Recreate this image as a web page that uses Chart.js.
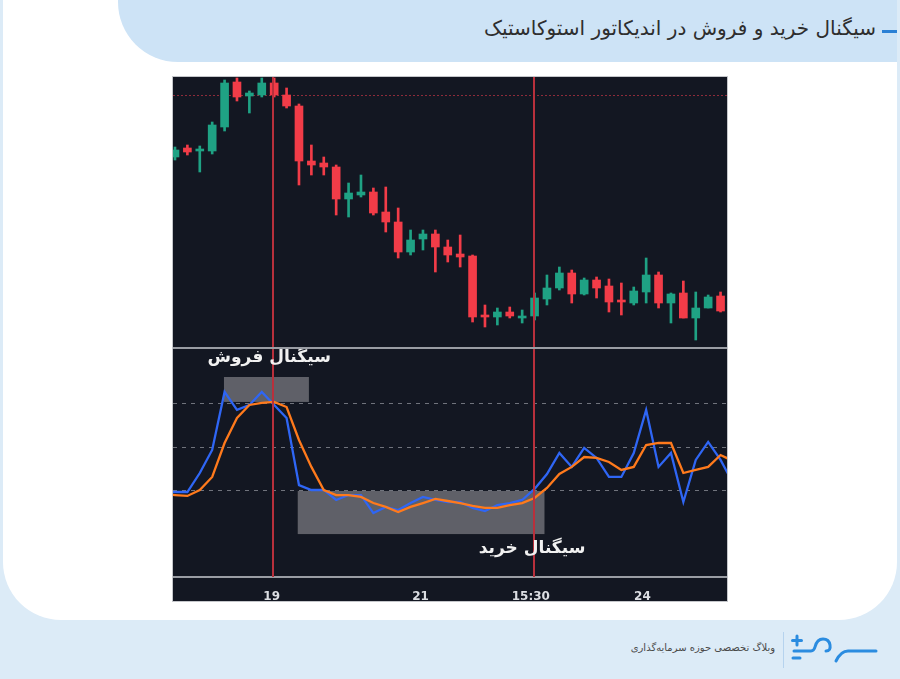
<!DOCTYPE html>
<html lang="fa">
<head>
<meta charset="utf-8">
<script src="https://cdn.jsdelivr.net/npm/chart.js@4.4.1/dist/chart.umd.min.js"></script>
<style>
  body { margin: 0; width: 900px; height: 679px; background: #dcebf7; position: relative; overflow: hidden; font-family: "DejaVu Sans", sans-serif; }
  #panel { position: absolute; left: 3px; top: 0; width: 894px; height: 620px; background: #fff; border-radius: 0 0 58px 58px; }
  #header { position: absolute; left: 118px; top: 0; width: 779px; height: 62px; background: #cde3f6; border-bottom-left-radius: 60px; }
  #title { position: absolute; right: 24px; top: 16px; font-size: 20px; color: #2e2e2e; direction: rtl; white-space: nowrap; }
  #dash { position: absolute; left: 882px; top: 30px; width: 15px; height: 3px; background: #2b80d5; }
  #frame { position: absolute; left: 172px; top: 76px; width: 554px; height: 524px; border: 1px solid #c4c6ca; background: #131722; }
  #frame canvas { position: absolute; left: 0; }
  #sep { position: absolute; left: 0; top: 270px; width: 554px; height: 2px; background: #9a9da4; }
  #foottext { position: absolute; right: 125px; top: 642px; font-size: 10px; color: #4a4a4a; direction: rtl; white-space: nowrap; }
  #footsep { position: absolute; left: 783px; top: 632px; width: 1px; height: 36px; background: #b6d3ee; }
  #logo { position: absolute; left: 788px; top: 630px; }
</style>
</head>
<body>
<div id="panel"></div>
<div id="header"></div>
<div id="title">سیگنال خرید و فروش در اندیکاتور استوکاستیک</div>
<div id="dash"></div>

<div id="frame">
  <canvas id="price" width="554" height="270" style="top:0"></canvas>
  <div id="sep"></div>
  <canvas id="stoch" width="554" height="252" style="top:272px"></canvas>
</div>

<div id="foottext">وبلاگ تخصصی حوزه سرمایه‌گذاری</div>
<div id="footsep"></div>
<svg id="logo" width="95" height="40" viewBox="788 630 95 40">
  <g fill="none" stroke="#2b8ce0" stroke-width="3" stroke-linecap="round" stroke-linejoin="round">
    <path d="M797 636 V645 M792.5 640.5 H801.5"/>
    <path d="M793 658 H800"/>
    <path d="M794 651 H811 Q814 651 815 647 Q817 639 823 639 Q829 639 830 645 Q831 651 826 651"/>
    <path d="M836 661 Q841 651 848 651 H876"/>
  </g>
</svg>

<script>
// candles (price units)
var open = [190, 199, 196, 196, 220, 265, 251, 252, 264, 252, 241, 186, 184, 180, 148, 152, 155, 135, 125, 95, 108, 113, 100, 93, 91, 32, 30, 35, 29, 31, 48, 59, 74, 53, 67, 61, 47, 44, 55, 72, 44, 54, 29, 39, 51];
var close = [197, 195, 198, 222, 264, 250, 254, 264, 252, 241, 186, 182, 180, 148, 154, 155, 134, 125, 95, 107, 113, 100, 92, 90, 30, 30, 35, 31, 31, 49, 59, 74, 53, 67, 59, 45, 45, 56, 72, 44, 53, 29, 39, 50, 36];
var high = [200, 202, 201, 225, 267, 269, 256, 269, 269, 259, 243, 202, 190, 182, 164, 172, 159, 160, 139, 117, 117, 117, 107, 112, 92, 42, 39, 40, 37, 54, 72, 80, 77, 69, 70, 68, 64, 60, 89, 75, 54, 66, 55, 52, 55];
var low = [187, 192, 175, 193, 216, 246, 234, 250, 250, 239, 162, 172, 172, 132, 130, 150, 132, 115, 89, 92, 97, 75, 85, 80, 25, 20, 22, 29, 24, 27, 42, 57, 44, 52, 49, 35, 32, 42, 44, 39, 24, 29, 7, 39, 35];
var resistance = 252;

// stochastic, first value sits one candle before the first candle
var stochStart = -1;
var kLine = [19.3, 19.3, 19.3, 32.4, 48.3, 88.3, 75.9, 79.3, 88.3, 79.3, 70.3, 24.1, 20.7, 20.7, 13.8, 17.2, 17.2, 4.8, 9.0, 6.9, 11.7, 15.9, 13.8, 12.4, 12.4, 8.3, 6.2, 10.3, 11.7, 13.8, 21.4, 31.7, 46.2, 36.6, 49.7, 42.8, 29.7, 29.7, 46.2, 75.9, 36.6, 46.2, 12.4, 41.4, 53.8, 41.4, 25.5];
var dLine = [17.9, 17.2, 16.6, 20.7, 29.7, 53.1, 70.3, 79.3, 80.7, 81.4, 77.9, 55.2, 36.6, 20.7, 17.2, 17.2, 15.9, 11.7, 9.0, 5.5, 9.0, 11.7, 14.5, 13.1, 11.7, 9.7, 8.3, 8.3, 10.3, 11.7, 15.2, 22.1, 31.7, 36.6, 43.4, 42.8, 40.0, 34.5, 36.6, 51.7, 53.1, 53.1, 32.4, 34.5, 36.6, 44.8, 40.7];
var levels = [20, 50, 80];

// time axis
var tickPos = [7.8, 19.8, 28.7, 37.7];
var tickLabels = ["19", "21", "15:30", "24"];
var signalX = [7.9, 28.95];

// marked zones [x from, x to, y from, y to] and their captions
var sellBox = [3.95, 10.8, 81.4, 98.6];
var buyBox = [9.9, 29.8, -9.7, 20];
var sellText = { text: "سیگنال فروش", x: 7.6, y: 111.7 };
var buyText = { text: "سیگنال خرید", x: 28.8, y: -20 };

var xMin = -0.16, xMax = 44.52;
var upColor = "#1fa284", downColor = "#f23c48";

var candleColors = open.map(function (o, i) {
  return close[i] >= o ? upColor : downColor;
});

function drawSignalLines(chart) {
  var ctx = chart.ctx, a = chart.chartArea, xs = chart.scales.x;
  ctx.save();
  ctx.strokeStyle = "#b8303c";
  ctx.lineWidth = 2;
  signalX.forEach(function (v) {
    var px = Math.round(xs.getPixelForValue(v));
    ctx.beginPath();
    ctx.moveTo(px, a.top);
    ctx.lineTo(px, a.bottom);
    ctx.stroke();
  });
  ctx.restore();
}

var priceOverlay = {
  id: "priceOverlay",
  beforeDatasetsDraw: function (chart) {
    var ctx = chart.ctx, a = chart.chartArea;
    var py = Math.round(chart.scales.y.getPixelForValue(resistance)) + 0.5;
    ctx.save();
    ctx.strokeStyle = "#8e2b3a";
    ctx.lineWidth = 1;
    ctx.setLineDash([2, 2]);
    ctx.beginPath();
    ctx.moveTo(a.left, py);
    ctx.lineTo(a.right, py);
    ctx.stroke();
    ctx.restore();
  },
  afterDatasetsDraw: function (chart) {
    drawSignalLines(chart);
  }
};

function drawBox(chart, b) {
  var xs = chart.scales.x, ys = chart.scales.y;
  var x0 = xs.getPixelForValue(b[0]), x1 = xs.getPixelForValue(b[1]);
  var y0 = ys.getPixelForValue(b[3]), y1 = ys.getPixelForValue(b[2]);
  chart.ctx.fillStyle = "rgba(150,150,155,0.58)";
  chart.ctx.fillRect(x0, y0, x1 - x0, y1 - y0);
}

function drawCaption(chart, t) {
  var ctx = chart.ctx;
  ctx.save();
  ctx.font = "bold 17px 'DejaVu Sans'";
  ctx.direction = "rtl";
  ctx.textAlign = "center";
  ctx.textBaseline = "middle";
  ctx.fillStyle = "#f1f1f1";
  ctx.fillText(t.text, chart.scales.x.getPixelForValue(t.x), chart.scales.y.getPixelForValue(t.y));
  ctx.restore();
}

var stochOverlay = {
  id: "stochOverlay",
  beforeDatasetsDraw: function (chart) {
    chart.ctx.save();
    drawBox(chart, sellBox);
    drawBox(chart, buyBox);
    chart.ctx.restore();
  },
  afterDatasetsDraw: function (chart) {
    drawSignalLines(chart);
    drawCaption(chart, sellText);
    drawCaption(chart, buyText);
  }
};

new Chart(document.getElementById("price"), {
  type: "bar",
  data: {
    datasets: [
      {
        label: "wick",
        data: high.map(function (h, i) { return { x: i, y: [low[i], h] }; }),
        backgroundColor: candleColors,
        barThickness: 2,
        grouped: false,
        order: 2,
      },
      {
        label: "body",
        data: open.map(function (o, i) { return { x: i, y: [o, close[i]] }; }),
        backgroundColor: candleColors,
        barThickness: 8,
        minBarLength: 2,
        grouped: false,
        order: 1,
      },
    ],
  },
  options: {
    responsive: false,
    animation: false,
    events: [],
    layout: { padding: 0 },
    plugins: { legend: { display: false }, tooltip: { enabled: false } },
    scales: {
      x: { type: "linear", display: false, min: xMin, max: xMax, offset: false },
      y: { display: false, min: 0, max: 270 },
    },
  },
  plugins: [priceOverlay],
});

new Chart(document.getElementById("stoch"), {
  type: "line",
  data: {
    datasets: [
      {
        label: "%D",
        data: dLine.map(function (v, i) { return { x: i + stochStart, y: v }; }),
        borderColor: "#ff7a1c",
        borderWidth: 2.3,
        pointRadius: 0,
        tension: 0,
        order: 1,
      },
      {
        label: "%K",
        data: kLine.map(function (v, i) { return { x: i + stochStart, y: v }; }),
        borderColor: "#2f66f5",
        borderWidth: 2.3,
        pointRadius: 0,
        tension: 0,
        order: 2,
      },
    ],
  },
  options: {
    responsive: false,
    animation: false,
    events: [],
    layout: { padding: 0 },
    plugins: { legend: { display: false }, tooltip: { enabled: false } },
    scales: {
      x: {
        type: "linear",
        min: xMin,
        max: xMax,
        offset: false,
        grid: { display: false },
        border: { display: true, color: "#9a9da4", width: 2 },
        afterBuildTicks: function (s) {
          s.ticks = tickPos.map(function (v) { return { value: v }; });
        },
        afterFit: function (s) { s.height = 24; },
        ticks: {
          autoSkip: false,
          maxRotation: 0,
          padding: 5,
          color: "#dcdee3",
          font: { size: 12, weight: "bold", family: "DejaVu Sans" },
          callback: function (v, i) { return tickLabels[i]; },
        },
      },
      y: {
        min: -39.3,
        max: 117.9,
        afterBuildTicks: function (s) {
          s.ticks = levels.map(function (v) { return { value: v }; });
        },
        afterFit: function (s) { s.width = 0; },
        ticks: { display: false },
        grid: { color: "#70737c", lineWidth: 1, drawTicks: false },
        border: { display: false, dash: [4, 5] },
      },
    },
  },
  plugins: [stochOverlay],
});
</script>
</body>
</html>
